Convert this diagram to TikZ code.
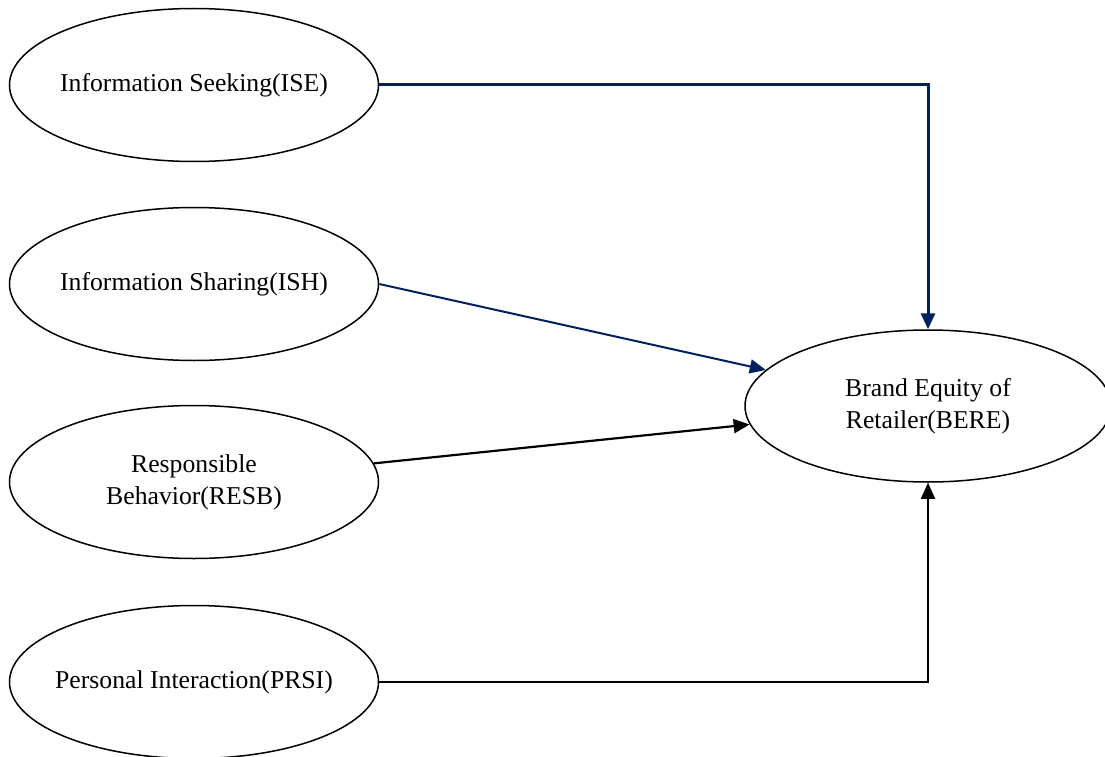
\documentclass[tikz,border=0pt]{standalone}
\usepackage{fontspec}
\setmainfont{Liberation Serif}
\usetikzlibrary{shapes.geometric,arrows.meta}
\definecolor{navy}{RGB}{0,32,96}
\tikzset{
  construct/.style={draw=black, line width=1.5pt, ellipse, inner sep=0pt,
    minimum width=369pt, minimum height=153pt},
  constructtext/.style={align=center, inner sep=0pt,
    font=\fontsize{25.7}{32}\selectfont},
  link/.style={-{Triangle[length=16pt,width=14pt]}},
}
\begin{document}
\begin{tikzpicture}[x=1pt,y=-1pt]
\useasboundingbox (0,0) rectangle (1105,757);
\node[construct, label={[constructtext]center:Information Seeking(ISE)}] (ISE) at (194,85) {};
\node[construct, label={[constructtext]center:Information Sharing(ISH)}] (ISH) at (194,284) {};
\node[construct, label={[constructtext]center:{Responsible\\Behavior(RESB)}}] (RESB) at (194,482) {};
\node[construct, label={[constructtext]center:Personal Interaction(PRSI)}] (PRSI) at (194,682) {};
\node[construct, minimum width=366pt, minimum height=152pt,
  label={[constructtext]center:{Brand Equity of\\Retailer(BERE)}}] (BERE) at (928,406) {};
\draw[link, navy, line width=3pt] (ISE.east) -| (BERE.north);
\draw[link, navy, line width=2pt] (ISH.east) -- (BERE);
\draw[link, black, line width=2.2pt] (RESB) -- (BERE);
\draw[link, black, line width=1.8pt] (PRSI.east) -| (BERE.south);
\end{tikzpicture}
\end{document}
